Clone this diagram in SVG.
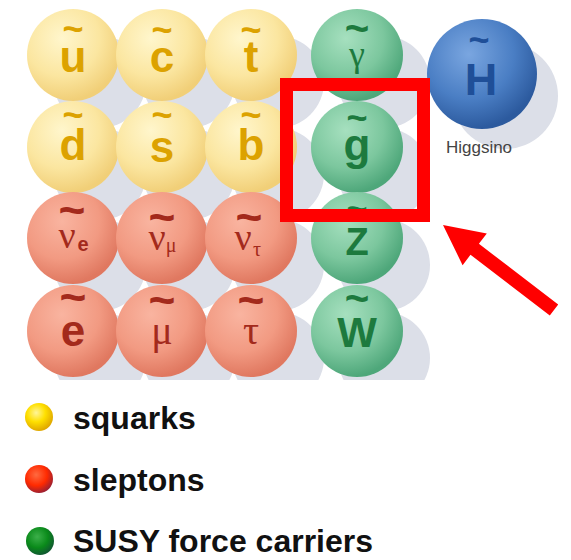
<svg xmlns="http://www.w3.org/2000/svg" width="571" height="560" viewBox="0 0 571 560">
<defs>
<radialGradient id="gy" cx="38%" cy="32%" r="68%"><stop offset="0" stop-color="#fff6cc"/><stop offset="0.6" stop-color="#fbe6a0"/><stop offset="1" stop-color="#f1cf78"/></radialGradient>
<radialGradient id="gr" cx="38%" cy="32%" r="68%"><stop offset="0" stop-color="#f9b4a0"/><stop offset="0.6" stop-color="#f29a82"/><stop offset="1" stop-color="#e07860"/></radialGradient>
<radialGradient id="gg" cx="38%" cy="32%" r="68%"><stop offset="0" stop-color="#a6e0bf"/><stop offset="0.6" stop-color="#7cc79e"/><stop offset="1" stop-color="#4ea77a"/></radialGradient>
<radialGradient id="gb" cx="38%" cy="32%" r="68%"><stop offset="0" stop-color="#7aa6e0"/><stop offset="0.6" stop-color="#4a7ec4"/><stop offset="1" stop-color="#2c5a9e"/></radialGradient>
<radialGradient id="ly" cx="40%" cy="35%" r="65%"><stop offset="0" stop-color="#fff59a"/><stop offset="0.5" stop-color="#ffe000"/><stop offset="1" stop-color="#e0a800"/></radialGradient>
<radialGradient id="lr" cx="40%" cy="35%" r="65%"><stop offset="0" stop-color="#ff6a40"/><stop offset="0.6" stop-color="#ff2a00"/><stop offset="1" stop-color="#a02030"/></radialGradient>
<radialGradient id="lg" cx="40%" cy="35%" r="65%"><stop offset="0" stop-color="#3cb04a"/><stop offset="0.6" stop-color="#0a8a1a"/><stop offset="1" stop-color="#105a30"/></radialGradient>
<clipPath id="gridclip"><rect x="0" y="0" width="440" height="380"/></clipPath>
</defs>
<style>
.sh{fill:#dcdfe8}
.sq{fill:url(#gy)}
.sl{fill:url(#gr)}
.gs{fill:url(#gg)}
.hg{fill:url(#gb)}
.ty{fill:#dca200}
.tr{fill:#a32a1c}
.tg{fill:#1d7a3e}
.tb{fill:#1f4f98}
.b{font-family:"Liberation Sans",Arial,sans-serif;font-weight:bold;text-anchor:middle}
.s{font-family:"Liberation Serif","Times New Roman",serif;text-anchor:middle}
.til{font-family:"Liberation Sans",Arial,sans-serif;font-weight:bold;font-size:36px;text-anchor:middle}
.tl{font-size:46px}
.tm{font-size:42px}
.leg{font-family:"Liberation Sans",Arial,sans-serif;font-weight:bold;font-size:32px;fill:#111}
</style>
<rect width="571" height="560" fill="#ffffff"/>
<g id="shadows">
<g clip-path="url(#gridclip)">
<circle class="sh" cx="100" cy="82" r="46"/><circle class="sh" cx="189" cy="82" r="46"/><circle class="sh" cx="278" cy="82" r="46"/>
<circle class="sh" cx="100" cy="174" r="46"/><circle class="sh" cx="189" cy="174" r="46"/><circle class="sh" cx="278" cy="174" r="46"/>
<circle class="sh" cx="100" cy="265" r="46"/><circle class="sh" cx="189" cy="265" r="46"/><circle class="sh" cx="278" cy="265" r="46"/>
<circle class="sh" cx="100" cy="358" r="46"/><circle class="sh" cx="189" cy="358" r="46"/><circle class="sh" cx="278" cy="358" r="46"/>
<circle class="sh" cx="384" cy="82" r="46"/><circle class="sh" cx="384" cy="174" r="46"/><circle class="sh" cx="384" cy="265" r="46"/><circle class="sh" cx="384" cy="358" r="46"/>
</g>
<circle class="sh" cx="505" cy="96" r="53"/>
</g>
<g id="node-u"><circle class="sq" cx="73" cy="55" r="46"/><text class="til ty" x="73" y="41">~</text><text class="b ty" x="73" y="72" font-size="44">u</text></g>
<g id="node-c"><circle class="sq" cx="162" cy="55" r="46"/><text class="til ty" x="162" y="42">~</text><text class="b ty" x="162" y="72" font-size="44">c</text></g>
<g id="node-t"><circle class="sq" cx="251" cy="55" r="46"/><text class="til ty" x="251" y="42">~</text><text class="b ty" x="251" y="72" font-size="44">t</text></g>
<g id="node-d"><circle class="sq" cx="73" cy="147" r="46"/><text class="til ty" x="73" y="127">~</text><text class="b ty" x="73" y="160" font-size="44">d</text></g>
<g id="node-s"><circle class="sq" cx="162" cy="147" r="46"/><text class="til ty" x="162" y="127">~</text><text class="b ty" x="162" y="162" font-size="44">s</text></g>
<g id="node-b"><circle class="sq" cx="251" cy="147" r="46"/><text class="til ty" x="251" y="127">~</text><text class="b ty" x="251" y="160" font-size="44">b</text></g>
<g id="node-nue"><circle class="sl" cx="73" cy="238" r="46"/><text class="til tl tr" x="72" y="226">~</text><text class="s tr" x="67" y="248" font-size="38">ν</text><text class="b tr" x="83" y="251" font-size="20">e</text></g>
<g id="node-numu"><circle class="sl" cx="162" cy="238" r="46"/><text class="til tl tr" x="162" y="233">~</text><text class="s tr" x="157" y="250" font-size="38">ν</text><text class="s tr" x="171" y="252" font-size="20">μ</text></g>
<g id="node-nutau"><circle class="sl" cx="251" cy="238" r="46"/><text class="til tl tr" x="249" y="233">~</text><text class="s tr" x="243" y="250" font-size="38">ν</text><text class="s tr" x="257" y="256" font-size="20">τ</text></g>
<g id="node-e"><circle class="sl" cx="73" cy="331" r="46"/><text class="til tl tr" x="73" y="313">~</text><text class="b tr" x="73" y="346" font-size="44">e</text></g>
<g id="node-mu"><circle class="sl" cx="162" cy="331" r="46"/><text class="til tl tr" x="162" y="316">~</text><text class="s tr" x="162" y="344" font-size="40">μ</text></g>
<g id="node-tau"><circle class="sl" cx="251" cy="331" r="46"/><text class="til tl tr" x="251" y="316">~</text><text class="s tr" x="251" y="344" font-size="40">τ</text></g>
<g id="node-photino"><circle class="gs" cx="357" cy="55" r="46"/><text class="til tm tg" x="357" y="43">~</text><text class="s tg" x="357" y="66" font-size="36">γ</text></g>
<g id="node-gluino"><circle class="gs" cx="357" cy="147" r="46"/><text class="til tg" x="357" y="130">~</text><text class="b tg" x="357" y="160" font-size="44">g</text></g>
<g id="node-zino"><circle class="gs" cx="357" cy="238" r="46"/><text class="til tg" x="357" y="221">~</text><text class="b tg" x="357" y="255" font-size="38">Z</text></g>
<g id="node-wino"><circle class="gs" cx="357" cy="331" r="46"/><text class="til tm tg" x="357" y="313">~</text><text class="b tg" x="357" y="347" font-size="42">W</text></g>
<g id="node-higgsino"><circle class="hg" cx="482" cy="74" r="55"/><text class="til tb" x="479" y="52">~</text><text class="b tb" x="481" y="95" font-size="45">H</text><text x="479" y="153" font-family="Liberation Sans,Arial,sans-serif" font-size="17" fill="#444" text-anchor="middle">Higgsino</text></g>
<g id="highlight"><rect x="286.5" y="84.5" width="137" height="131" fill="none" stroke="#ff0000" stroke-width="13"/></g>
<g id="connectors"><polygon points="443,225 486.8,233.4 478.9,243.8 558.2,304.4 549.8,315.6 470.5,254.8 462.6,265.2" fill="#ff0000"/></g>
<g id="legend">
<circle cx="39" cy="417" r="14" fill="url(#ly)"/><text class="leg" x="73" y="429">squarks</text>
<circle cx="39" cy="479" r="14" fill="url(#lr)"/><text class="leg" x="73" y="491">sleptons</text>
<circle cx="40" cy="541" r="14" fill="url(#lg)"/><text class="leg" x="73" y="552">SUSY force carriers</text>
</g>
</svg>
